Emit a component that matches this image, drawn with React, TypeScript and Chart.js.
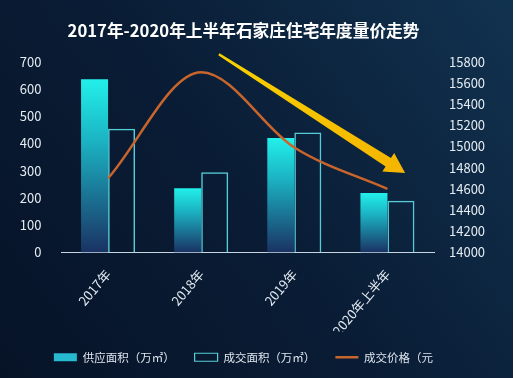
import React, { useEffect, useRef } from 'react';
import { Chart, registerables } from 'chart.js';

Chart.register(...registerables);

const titleText = '2017年-2020年上半年石家庄住宅年度量价走势';
const categories = ['2017年', '2018年', '2019年', '2020年上半年'];
const supplyArea = [635, 236, 420, 218];
const dealArea = [454, 294, 440, 190];
const dealPrice = [14700, 15700, 14990, 14600];
const legendLabels = ['供应面积（万㎡）', '成交面积（万㎡）', '成交价格（元'];
const areaAxis = { min: 0, max: 700, step: 100 };
const priceAxis = { min: 14000, max: 15800, step: 200 };
// trend arrow, in data coordinates (category index, price)
const arrowFrom = { x: 1.19, y: 15870 };
const arrowTo = { x: 3.19, y: 14750 };

const FONT = "'Noto Sans CJK SC', 'Noto Sans', sans-serif";
const W = 513;
const H = 378;

const bgPlugin = {
  id: 'bg',
  beforeDraw(chart: any) {
    const { ctx, width, height } = chart;
    ctx.save();
    const g = ctx.createLinearGradient(0, height, width, 0);
    g.addColorStop(0, '#061327');
    g.addColorStop(0.5, '#0a1d36');
    g.addColorStop(1, '#11324f');
    ctx.fillStyle = g;
    ctx.fillRect(0, 0, width, height);
    ctx.restore();
  },
};

const arrowPlugin = {
  id: 'trendArrow',
  afterDatasetsDraw(chart: any) {
    const { ctx, scales } = chart;
    const x0 = scales.x.getPixelForValue(arrowFrom.x);
    const y0 = scales.yPrice.getPixelForValue(arrowFrom.y);
    const x1 = scales.x.getPixelForValue(arrowTo.x);
    const y1 = scales.yPrice.getPixelForValue(arrowTo.y);
    const dx = x1 - x0;
    const dy = y1 - y0;
    const len = Math.hypot(dx, dy);
    const ux = dx / len;
    const uy = dy / len;
    const nx = -uy;
    const ny = ux;
    const headLen = 20;
    const bx = x1 - ux * headLen;
    const by = y1 - uy * headLen;
    const w0 = 1.2;
    const w1 = 5;
    const wh = 11;
    ctx.save();
    const g = ctx.createLinearGradient(x0, y0, x1, y1);
    g.addColorStop(0, '#f7d200');
    g.addColorStop(1, '#f5b400');
    ctx.fillStyle = g;
    ctx.beginPath();
    ctx.moveTo(x0 + nx * w0, y0 + ny * w0);
    ctx.lineTo(bx + nx * w1, by + ny * w1);
    ctx.lineTo(bx + nx * wh, by + ny * wh);
    ctx.lineTo(x1, y1);
    ctx.lineTo(bx - nx * wh, by - ny * wh);
    ctx.lineTo(bx - nx * w1, by - ny * w1);
    ctx.lineTo(x0 - nx * w0, y0 - ny * w0);
    ctx.closePath();
    ctx.fill();
    ctx.restore();
  },
};

function supplyGradient(context: any) {
  const chart = context.chart;
  const area = chart.chartArea;
  if (!area || context.type !== 'data') return '#1fd6dc';
  const y = chart.scales.y;
  const v = supplyArea[context.dataIndex];
  const top = y.getPixelForValue(v);
  const g = chart.ctx.createLinearGradient(0, top, 0, area.bottom);
  g.addColorStop(0, '#22f0ea');
  g.addColorStop(0.35, '#1bb4c4');
  g.addColorStop(1, '#1a3263');
  return g;
}

export default function App() {
  const ref = useRef<HTMLCanvasElement | null>(null);

  useEffect(() => {
    document.body.style.margin = '0';
    document.body.style.background = '#ffffff';
    const canvas = ref.current;
    if (!canvas) return;
    const chart = new Chart(canvas, {
      type: 'bar',
      data: {
        labels: categories,
        datasets: [
          {
            type: 'line',
            label: legendLabels[2],
            data: dealPrice,
            yAxisID: 'yPrice',
            borderColor: '#c8652c',
            backgroundColor: '#c8652c',
            borderWidth: 2.5,
            pointRadius: 0,
            cubicInterpolationMode: 'monotone',
            fill: false,
            order: 0,
          } as any,
          {
            label: legendLabels[0],
            data: supplyArea,
            yAxisID: 'y',
            backgroundColor: supplyGradient,
            borderWidth: 0,
            categoryPercentage: 0.58,
            barPercentage: 1,
            order: 1,
          },
          {
            label: legendLabels[1],
            data: dealArea,
            yAxisID: 'y',
            backgroundColor: 'rgba(0,0,0,0)',
            borderColor: '#55cdd8',
            borderWidth: 1.5,
            categoryPercentage: 0.58,
            barPercentage: 1,
            order: 1,
          },
        ],
      },
      options: {
        responsive: false,
        animation: false,
        layout: { padding: { left: 0, right: 26, top: 0, bottom: 5 } },
        plugins: {
          tooltip: { enabled: false },
          title: {
            display: true,
            text: titleText,
            color: '#ffffff',
            font: { family: FONT, size: 16.7, weight: 'bold' },
            padding: { top: 21, bottom: 20.6 },
          },
          legend: {
            position: 'bottom',
            labels: {
              color: '#dfe6ee',
              font: { family: FONT, size: 11.5 },
              usePointStyle: true,
              pointStyleWidth: 23,
              boxHeight: 8,
              padding: 20,
              generateLabels: () => [
                {
                  text: legendLabels[0],
                  fillStyle: '#27b9cf',
                  strokeStyle: '#27b9cf',
                  lineWidth: 0,
                  pointStyle: 'rect',
                  fontColor: '#dfe6ee',
                  datasetIndex: 1,
                } as any,
                {
                  text: legendLabels[1],
                  fillStyle: 'rgba(0,0,0,0)',
                  strokeStyle: '#55cdd8',
                  lineWidth: 1.2,
                  pointStyle: 'rect',
                  fontColor: '#dfe6ee',
                  datasetIndex: 2,
                } as any,
                {
                  text: legendLabels[2],
                  fillStyle: '#c8652c',
                  strokeStyle: '#c8652c',
                  lineWidth: 2.5,
                  pointStyle: 'line',
                  fontColor: '#dfe6ee',
                  datasetIndex: 0,
                } as any,
              ],
            },
          },
        },
        scales: {
          x: {
            grid: { display: false, drawTicks: false },
            border: { display: true, color: '#c9d6e2', width: 1 },
            ticks: {
              color: '#e4ebf2',
              font: { family: FONT, size: 13 },
              minRotation: 50,
              maxRotation: 50,
              autoSkip: false,
              padding: 14,
            },
            afterFit: (s: any) => {
              s.height = 79;
            },
          },
          y: {
            position: 'left',
            min: areaAxis.min,
            max: areaAxis.max,
            grid: { display: false, drawTicks: false },
            border: { display: false },
            ticks: {
              stepSize: areaAxis.step,
              color: '#e4ebf2',
              font: { family: FONT, size: 13 },
              padding: 20,
            },
            afterFit: (s: any) => {
              s.width = 61.5;
            },
          },
          yPrice: {
            position: 'right',
            min: priceAxis.min,
            max: priceAxis.max,
            grid: { display: false, drawTicks: false },
            border: { display: false },
            ticks: {
              stepSize: priceAxis.step,
              color: '#e4ebf2',
              font: { family: FONT, size: 13 },
              padding: 15,
              callback: (v: any) => String(v),
            },
            afterFit: (s: any) => {
              s.width = W - 26 - 434;
            },
          },
        },
      } as any,
      plugins: [bgPlugin, arrowPlugin],
    });
    return () => chart.destroy();
  }, []);

  return (
    <div style={{ width: W, height: H, background: '#0a1d36' }}>
      <canvas ref={ref} width={W} height={H} style={{ display: 'block' }} />
    </div>
  );
}
